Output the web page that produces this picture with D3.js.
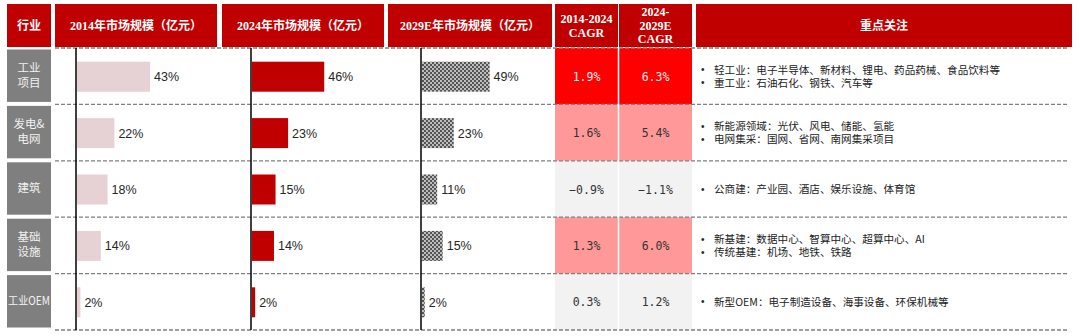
<!DOCTYPE html>
<html><head><meta charset="utf-8">
<script src="https://cdn.jsdelivr.net/npm/d3@7"></script>
<style>html,body{margin:0;padding:0;background:#fff;}svg{display:block;}</style>
</head><body>
<svg id="chart" width="1080" height="336"></svg>
<script>
// ---------- data ----------
const categories = ["工业项目", "发电&电网", "建筑", "基础设施", "工业OEM"];
const categoryLines = [["工业", "项目"], ["发电&", "电网"], ["建筑"], ["基础", "设施"], ["工业OEM"]];
const share2014 = [43, 22, 18, 14, 2];
const share2024 = [46, 23, 15, 14, 2];
const share2029E = [49, 23, 11, 15, 2];
const cagr2014_2024 = [1.9, 1.6, -0.9, 1.3, 0.3];
const cagr2024_2029E = [6.3, 5.4, -1.1, 6.0, 1.2];
const cagrLevel = ["high", "mid", "low", "mid", "low"];
const focusItems = [
  ["轻工业：电子半导体、新材料、锂电、药品药械、食品饮料等", "重工业：石油石化、钢铁、汽车等"],
  ["新能源领域：光伏、风电、储能、氢能", "电网集采：国网、省网、南网集采项目"],
  ["公商建：产业园、酒店、娱乐设施、体育馆"],
  ["新基建：数据中心、智算中心、超算中心、AI", "传统基建：机场、地铁、铁路"],
  ["新型OEM：电子制造设备、海事设备、环保机械等"]
];
const headerLabels = [
  ["行业"], ["2014年市场规模（亿元）"], ["2024年市场规模（亿元）"], ["2029E年市场规模（亿元）"],
  ["2014-2024", "CAGR"], ["2024-", "2029E", "CAGR"], ["重点关注"]
];

// ---------- layout ----------
const svg = d3.select("#chart");
const headerTop = 4, headerBottom = 47;
const bodyTop = 48, bodyBottom = 330;
const headerCols = [[7, 51], [55, 217], [222, 384], [388, 552], [555, 618], [619, 692], [696, 1072]];
const RED = "#c00000";

const y = d3.scaleBand().domain(categories).range([bodyTop, bodyBottom]);
const bw = y.bandwidth();

// pattern for 2029E bars
const defs = svg.append("defs");
const pat = defs.append("pattern").attr("id", "checker").attr("patternUnits", "userSpaceOnUse")
  .attr("width", 4).attr("height", 4);
pat.append("rect").attr("width", 4).attr("height", 4).attr("fill", "#555555");
pat.append("rect").attr("x", 0).attr("y", 0).attr("width", 2).attr("height", 2).attr("fill", "#bdbdbd");
pat.append("rect").attr("x", 2).attr("y", 2).attr("width", 2).attr("height", 2).attr("fill", "#bdbdbd");

// header
const hdr = svg.append("g");
headerCols.forEach((c, i) => {
  hdr.append("rect").attr("x", c[0]).attr("y", headerTop).attr("width", c[1] - c[0])
    .attr("height", headerBottom - headerTop).attr("fill", RED);
  const lines = headerLabels[i];
  const lh = 13.5;
  const cy = (headerTop + headerBottom) / 2;
  lines.forEach((t, j) => {
    hdr.append("text").attr("x", (c[0] + c[1]) / 2)
      .attr("y", cy + (j - (lines.length - 1) / 2) * lh)
      .attr("dy", "0.36em").attr("text-anchor", "middle")
      .attr("fill", "#fff").attr("font-weight", "bold")
      .attr("font-family", "'Liberation Serif','Noto Sans CJK SC',serif")
      .attr("font-size", 12).text(t);
  });
});

// CAGR cells
const cagrColor = d3.scaleOrdinal().domain(["high", "mid", "low"]).range(["#ff0000", "#ff9999", "#f2f2f2"]);
const cagrText = d3.scaleOrdinal().domain(["high", "mid", "low"]).range(["#fff0f0", "#333333", "#333333"]);
const fmt = d3.format(".1f");
[[cagr2014_2024, headerCols[4]], [cagr2024_2029E, headerCols[5]]].forEach(([vals, c]) => {
  const g = svg.append("g");
  g.selectAll("rect").data(categories).join("rect")
    .attr("x", c[0]).attr("y", d => y(d)).attr("width", c[1] - c[0]).attr("height", bw)
    .attr("fill", (d, i) => cagrColor(cagrLevel[i]));
  g.selectAll("text").data(categories).join("text")
    .attr("x", (c[0] + c[1]) / 2).attr("y", d => y(d) + bw / 2 + 0.5).attr("dy", "0.36em")
    .attr("text-anchor", "middle").attr("font-family", "'DejaVu Sans Mono',monospace")
    .attr("font-size", 11.5)
    .attr("fill", (d, i) => cagrText(cagrLevel[i]))
    .text((d, i) => fmt(vals[i]) + "%");
});

// category boxes
const cat = svg.append("g");
categories.forEach((d, i) => {
  cat.append("rect").attr("x", 7).attr("y", y(d) + 1.5).attr("width", 44).attr("height", bw - 4)
    .attr("fill", "#7f7f7f");
  const lines = categoryLines[i];
  lines.forEach((t, j) => {
    const tx = cat.append("text").attr("x", 29)
      .attr("y", y(d) + bw / 2 - 1 + (j - (lines.length - 1) / 2) * 15)
      .attr("dy", "0.36em").attr("text-anchor", "middle").attr("fill", "#f2f2f2")
      .attr("font-family", "'Noto Sans CJK SC',sans-serif").attr("font-size", 11.5).text(t);
    if (t.length > 3) tx.attr("textLength", 42).attr("lengthAdjust", "spacingAndGlyphs");
  });
});

// bars
const barH = 30;
const barCols = [
  { vals: share2014, x0: 77, scale: d3.scaleLinear().domain([0, 100]).range([0, 170]), fill: "#e6d2d5" },
  { vals: share2024, x0: 252, scale: d3.scaleLinear().domain([0, 100]).range([0, 157]), fill: RED },
  { vals: share2029E, x0: 422, scale: d3.scaleLinear().domain([0, 100]).range([0, 138]), fill: "url(#checker)" }
];
barCols.forEach(col => {
  const g = svg.append("g");
  g.selectAll("rect").data(categories).join("rect")
    .attr("x", col.x0).attr("y", d => y(d) + bw / 2 - barH / 2 + 0.5)
    .attr("width", (d, i) => col.scale(col.vals[i])).attr("height", barH)
    .attr("fill", col.fill);
  g.selectAll("text").data(categories).join("text")
    .attr("x", (d, i) => col.x0 + col.scale(col.vals[i]) + 4)
    .attr("y", d => y(d) + bw / 2 + 0.5).attr("dy", "0.36em")
    .attr("font-family", "'Liberation Sans',Arial,sans-serif").attr("font-size", 12.5)
    .attr("fill", "#262626")
    .text((d, i) => col.vals[i] + "%");
});

// dashed separators
const sep = svg.append("g");
const lines = categories.map(d => y(d)).concat([bodyBottom]);
sep.selectAll("line").data(lines).join("line")
  .attr("x1", 55).attr("x2", 1068).attr("y1", d => d).attr("y2", d => d)
  .attr("stroke", "#7f7f7f").attr("stroke-width", 1.3).attr("stroke-dasharray", "4,2");

// white divider between CAGR cols
svg.append("line").attr("x1", 618.5).attr("x2", 618.5).attr("y1", bodyTop).attr("y2", bodyBottom)
  .attr("stroke", "#fff").attr("stroke-width", 1.5);

// vertical axes
[76, 251, 421].forEach(x => {
  svg.append("line").attr("x1", x).attr("x2", x).attr("y1", bodyTop).attr("y2", bodyBottom)
    .attr("stroke", "#000").attr("stroke-width", 1.5);
});

// focus text
const foc = svg.append("g");
categories.forEach((d, i) => {
  const items = focusItems[i];
  items.forEach((t, j) => {
    const ty = y(d) + bw / 2 + (j - (items.length - 1) / 2) * 13;
    foc.append("text").attr("x", 701).attr("y", ty).attr("dy", "0.36em")
      .attr("font-family", "'Liberation Sans',sans-serif").attr("font-size", 10).attr("fill", "#222").text("•");
    foc.append("text").attr("x", 714).attr("y", ty).attr("dy", "0.36em")
      .attr("font-family", "'Noto Sans CJK SC',sans-serif").attr("font-size", 10.6).attr("fill", "#222").text(t);
  });
});
</script>
</body></html>
